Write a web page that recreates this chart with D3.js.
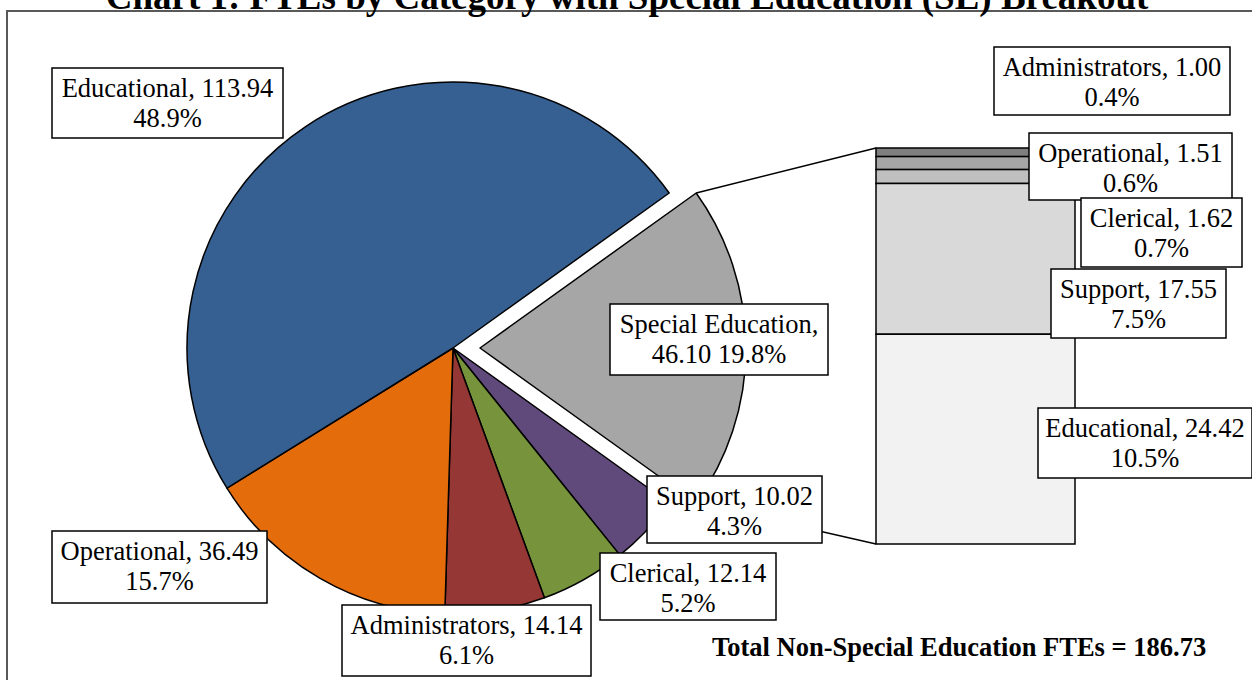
<!DOCTYPE html>
<html>
<head>
<meta charset="utf-8">
<script src="https://cdn.jsdelivr.net/npm/d3@7"></script>
<style>
  body { margin: 0; background: #fff; }
  svg text { font-family: "Liberation Serif", "Times New Roman", serif; fill: #000; }
</style>
</head>
<body>
<div id="chart"></div>
<script>
// DATA
const pieCategories = ["Special Education", "Support", "Clerical", "Administrators", "Operational", "Educational"];
const pieValues = [46.10, 10.02, 12.14, 14.14, 36.49, 113.94];
const pieColors = ["#a6a6a6", "#604a7b", "#77933c", "#953735", "#e46c0a", "#376092"];

const barCategories = ["Administrators", "Operational", "Clerical", "Support", "Educational"];
const barValues = [1.00, 1.51, 1.62, 17.55, 24.42];
const barColors = ["#7f7f7f", "#a6a6a6", "#bfbfbf", "#d9d9d9", "#f2f2f2"];

const titleText = "Chart 1: FTEs by Category with Special Education (SE) Breakout";

// LAYOUT
const width = 1252, height = 680;
const cx = 453, cy = 348, radius = 266, explode = 27;
const bar = { x: 876, w: 199, top: 148, bottom: 544 };
const labelFont = "26.5px";

// label boxes [x, y, w, h]
const pieLabelBoxes = {
  "Special Education": [610, 304, 218, 71],
  "Support": [647, 476, 175, 67],
  "Clerical": [600, 553, 176, 67],
  "Administrators": [342, 605, 249, 71],
  "Operational": [52, 531, 215, 72],
  "Educational": [52, 68, 231, 70]
};
const barLabelBoxes = {
  "Administrators": [994, 47, 236, 68],
  "Operational": [1029, 133, 203, 67],
  "Clerical": [1081, 198, 161, 69],
  "Support": [1051, 269, 175, 69],
  "Educational": [1038, 408, 214, 70]
};

const total = d3.sum(pieValues);
const seValue = pieValues[0];
const nonSE = total - seValue;
const pct = (v) => (v / total * 100).toFixed(1) + "%";

const svg = d3.select("#chart")
  .append("svg")
  .attr("width", width)
  .attr("height", height);

// outer chart border
svg.append("rect")
  .attr("x", 7).attr("y", 11)
  .attr("width", width + 20).attr("height", height + 20)
  .attr("fill", "none")
  .attr("stroke", "#595959")
  .attr("stroke-width", 2);

// title (sits mostly above the page edge, as in the source)
svg.append("text")
  .attr("x", 627)
  .attr("y", 9)
  .attr("text-anchor", "middle")
  .style("font-size", "37px")
  .style("font-weight", "bold")
  .text(titleText);

// PIE
const seAngle = 2 * Math.PI * seValue / total;
const start = Math.PI / 2 - seAngle / 2;
const pie = d3.pie().sort(null).value((d) => d)
  .startAngle(start).endAngle(start + 2 * Math.PI);
const arcs = pie(pieValues);
const arc = d3.arc().innerRadius(0).outerRadius(radius);

const offset = (d, i) => {
  if (i !== 0) return [0, 0];
  const mid = (d.startAngle + d.endAngle) / 2;
  return [Math.sin(mid) * explode, -Math.cos(mid) * explode];
};

const pieG = svg.append("g").attr("transform", `translate(${cx}, ${cy})`);
pieG.selectAll("path")
  .data(arcs)
  .enter()
  .append("path")
  .attr("d", arc)
  .attr("transform", (d, i) => `translate(${offset(d, i)})`)
  .attr("fill", (d, i) => pieColors[i])
  .attr("stroke", "#000")
  .attr("stroke-width", 1.5)
  .attr("stroke-linejoin", "round");

// connector lines from SE slice to the bar
const se = arcs[0];
const [ox, oy] = offset(se, 0);
const corner = (a) => [cx + ox + Math.sin(a) * radius, cy + oy - Math.cos(a) * radius];
const yScale = d3.scaleLinear().domain([0, d3.sum(barValues)]).range([bar.top, bar.bottom]);

svg.append("line")
  .attr("x1", corner(se.startAngle)[0]).attr("y1", corner(se.startAngle)[1])
  .attr("x2", bar.x).attr("y2", yScale(0))
  .attr("stroke", "#000").attr("stroke-width", 1.5);
svg.append("line")
  .attr("x1", corner(se.endAngle)[0]).attr("y1", corner(se.endAngle)[1])
  .attr("x2", bar.x).attr("y2", yScale(d3.sum(barValues)))
  .attr("stroke", "#000").attr("stroke-width", 1.5);

// STACKED BAR
const cum = d3.cumsum(barValues);
svg.append("g").selectAll("rect")
  .data(barValues)
  .enter()
  .append("rect")
  .attr("x", bar.x)
  .attr("y", (d, i) => yScale(cum[i] - d))
  .attr("width", bar.w)
  .attr("height", (d) => yScale(d) - yScale(0))
  .attr("fill", (d, i) => barColors[i])
  .attr("stroke", "#000")
  .attr("stroke-width", 1.5);

// LABELS
function drawLabel(box, line1, line2) {
  const [x, y, w, h] = box;
  const g = svg.append("g");
  g.append("rect")
    .attr("x", x).attr("y", y)
    .attr("width", w).attr("height", h)
    .attr("fill", "#fff")
    .attr("stroke", "#000")
    .attr("stroke-width", 1.5);
  g.append("text")
    .attr("x", x + w / 2).attr("y", y + 29)
    .attr("text-anchor", "middle")
    .style("font-size", labelFont)
    .text(line1);
  g.append("text")
    .attr("x", x + w / 2).attr("y", y + 59)
    .attr("text-anchor", "middle")
    .style("font-size", labelFont)
    .text(line2);
}

pieCategories.forEach((c, i) => {
  const v = pieValues[i].toFixed(2);
  if (c === "Special Education") {
    drawLabel(pieLabelBoxes[c], c + ",", v + " " + pct(pieValues[i]));
  } else {
    drawLabel(pieLabelBoxes[c], c + ", " + v, pct(pieValues[i]));
  }
});

barCategories.forEach((c, i) => {
  drawLabel(barLabelBoxes[c], c + ", " + barValues[i].toFixed(2), pct(barValues[i]));
});

// total note
svg.append("text")
  .attr("x", 712)
  .attr("y", 656)
  .style("font-size", "26.5px")
  .style("font-weight", "bold")
  .text("Total Non-Special Education FTEs = " + nonSE.toFixed(2));
</script>
</body>
</html>
